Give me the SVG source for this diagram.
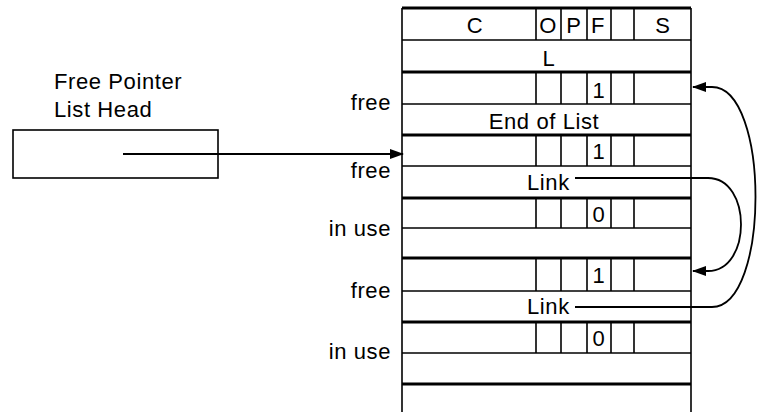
<svg xmlns="http://www.w3.org/2000/svg" width="757" height="412" viewBox="0 0 757 412">
<defs>
<style>
text{font-family:"Liberation Sans",Arial,Helvetica,sans-serif;font-size:22px;fill:#000;letter-spacing:0.6px}
.m{text-anchor:middle}
.e{text-anchor:end}
.thin{stroke:#000;stroke-width:1.6;fill:none}
.thick{stroke:#000;stroke-width:3.2;fill:none}
.div{stroke:#000;stroke-width:1.6}
.conn{stroke:#000;stroke-width:1.8;fill:none}
</style>
<marker id="ah" viewBox="0 0 14 10" refX="13" refY="5" markerWidth="14" markerHeight="10" markerUnits="userSpaceOnUse" orient="auto">
<path d="M0,0 L14,5 L0,10 Z" fill="#000"/>
</marker>
</defs>
<rect width="757" height="412" fill="#fff"/>

<g id="list-head">
<text x="54" y="89">Free Pointer</text>
<text x="54" y="117">List Head</text>
<rect x="13" y="130" width="205" height="48" class="thin"/>
</g>

<g id="table">
<line x1="402" y1="8" x2="402" y2="412" class="thin"/>
<line x1="691" y1="8" x2="691" y2="412" class="thin"/>
<line x1="402" y1="8" x2="691" y2="8" class="thick"/>
<line x1="402" y1="40" x2="691" y2="40" class="thin"/>
<g class="div">
<line x1="536" y1="8" x2="536" y2="40"/><line x1="561" y1="8" x2="561" y2="40"/><line x1="587" y1="8" x2="587" y2="40"/><line x1="611" y1="8" x2="611" y2="40"/><line x1="634" y1="8" x2="634" y2="40"/>
</g>
<text x="475" y="33" class="m">C</text>
<text x="548" y="33" class="m">O</text>
<text x="574" y="33" class="m">P</text>
<text x="598" y="33" class="m">F</text>
<text x="663" y="33" class="m">S</text>
<text x="549" y="66" class="m">L</text>
</g>

<g id="entry1">
<line x1="402" y1="72" x2="691" y2="72" class="thick"/>
<line x1="402" y1="104" x2="691" y2="104" class="thin"/>
<g class="div"><line x1="536" y1="72" x2="536" y2="104"/><line x1="561" y1="72" x2="561" y2="104"/><line x1="587" y1="72" x2="587" y2="104"/><line x1="611" y1="72" x2="611" y2="104"/><line x1="634" y1="72" x2="634" y2="104"/></g>
<text x="599" y="98" class="m">1</text>
<text x="391" y="110" class="e">free</text>
<text x="544" y="129" class="m">End of List</text>
</g>

<g id="entry2">
<line x1="402" y1="135" x2="691" y2="135" class="thick"/>
<line x1="402" y1="166" x2="691" y2="166" class="thin"/>
<g class="div"><line x1="536" y1="135" x2="536" y2="166"/><line x1="561" y1="135" x2="561" y2="166"/><line x1="587" y1="135" x2="587" y2="166"/><line x1="611" y1="135" x2="611" y2="166"/><line x1="634" y1="135" x2="634" y2="166"/></g>
<text x="599" y="159" class="m">1</text>
<text x="391" y="178" class="e">free</text>
<text x="527" y="190">Link</text>
</g>

<g id="entry3">
<line x1="402" y1="198" x2="691" y2="198" class="thick"/>
<line x1="402" y1="228" x2="691" y2="228" class="thin"/>
<g class="div"><line x1="536" y1="198" x2="536" y2="228"/><line x1="561" y1="198" x2="561" y2="228"/><line x1="587" y1="198" x2="587" y2="228"/><line x1="611" y1="198" x2="611" y2="228"/><line x1="634" y1="198" x2="634" y2="228"/></g>
<text x="599" y="222" class="m">0</text>
<text x="391" y="236" class="e">in use</text>
</g>

<g id="entry4">
<line x1="402" y1="258" x2="691" y2="258" class="thick"/>
<line x1="402" y1="291" x2="691" y2="291" class="thin"/>
<g class="div"><line x1="536" y1="258" x2="536" y2="291"/><line x1="561" y1="258" x2="561" y2="291"/><line x1="587" y1="258" x2="587" y2="291"/><line x1="611" y1="258" x2="611" y2="291"/><line x1="634" y1="258" x2="634" y2="291"/></g>
<text x="599" y="283" class="m">1</text>
<text x="391" y="298" class="e">free</text>
<text x="527" y="314">Link</text>
</g>

<g id="entry5">
<line x1="402" y1="322" x2="691" y2="322" class="thick"/>
<line x1="402" y1="353" x2="691" y2="353" class="thin"/>
<g class="div"><line x1="536" y1="322" x2="536" y2="353"/><line x1="561" y1="322" x2="561" y2="353"/><line x1="587" y1="322" x2="587" y2="353"/><line x1="611" y1="322" x2="611" y2="353"/><line x1="634" y1="322" x2="634" y2="353"/></g>
<text x="599" y="346" class="m">0</text>
<text x="391" y="359" class="e">in use</text>
<line x1="402" y1="384" x2="691" y2="384" class="thick"/>
</g>

<g id="connectors">
<path d="M123,154 L403,154" class="conn" marker-end="url(#ah)"/>
<path d="M575,178 L708,178 C752,178 752,271 708,271 L693,271" class="conn" marker-end="url(#ah)"/>
<path d="M575,307 L712,307 C770,307 770,87 712,87 L693,87" class="conn" marker-end="url(#ah)"/>
</g>
</svg>
